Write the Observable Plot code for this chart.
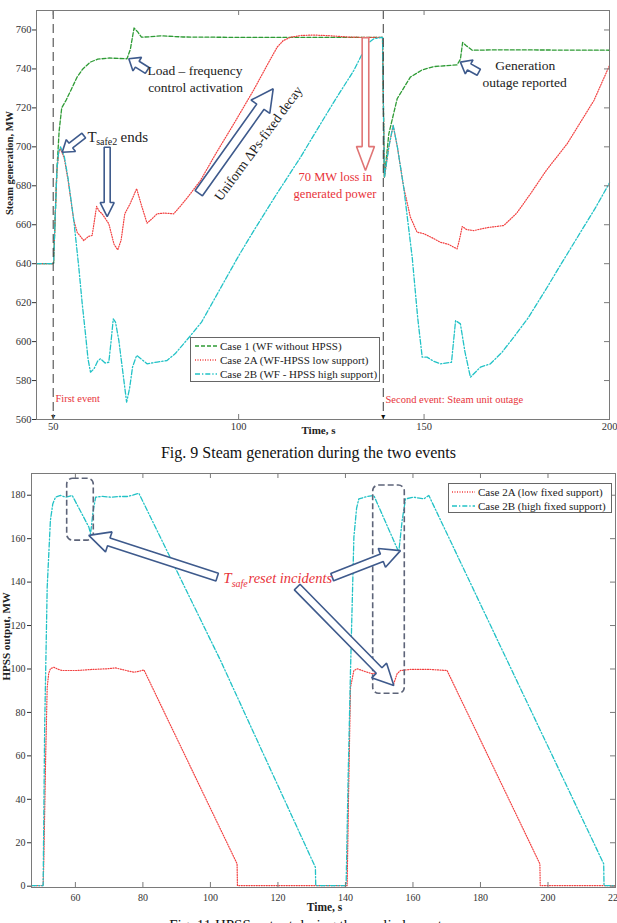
<!DOCTYPE html>
<html><head><meta charset="utf-8">
<script src="https://cdn.jsdelivr.net/npm/d3@7"></script>
<script src="https://cdn.jsdelivr.net/npm/@observablehq/plot@0.6"></script>
<style>
html,body{margin:0;padding:0;background:#fff;}
#wrap{position:relative;width:617px;height:923px;overflow:hidden;font-family:"Liberation Serif","Times New Roman",serif;color:#222;}
.cap{width:617px;text-align:center;font-size:16px;line-height:22px;height:22px;color:#111;}
.legend{position:absolute;background:#fff;border:1px solid #666;box-sizing:border-box;}
.legend .row{position:absolute;height:14px;display:flex;align-items:center;font-size:11px;white-space:nowrap;color:#222;font-family:"Liberation Serif","Times New Roman",serif;}
.legend .row svg{margin-right:3px;}
svg{display:block;}
</style></head><body>
<div id="wrap">
<div id="top"></div>
<div class="cap">Fig. 9 Steam generation during the two events</div>
<div id="bot"></div>
<div class="cap" style="line-height:18px;font-size:15px">Fig. 11 HPSS output during the applied events</div>
</div>
<script>
// ---------- DATA: Fig. 9 steam generation (time s, MW) ----------
const case1 = [[45.5,640],[50.1,640],[50.5,662],[51,688],[51.6,708],[52.3,720],[53.5,724],[55,730],[56.5,736],[58,740],[60,743.5],[62,745],[65,745.6],[69.9,745.2],[70.8,750],[71.8,761],[72.8,759],[73.8,756.3],[76,756.5],[79,757],[85,756.4],[100,756.2],[138.8,756.2],[139.3,684.3],[140.5,706.7],[142.75,724.7],[146.3,735.8],[149.5,739.5],[152.6,741.2],[158.9,742.1],[159.8,745],[160.4,753.6],[161.3,752],[163,749.6],[170,749.8],[200,749.6]];
const case2A = [[45.5,640],[50.1,640],[50.5,662],[51,688],[51.5,697],[52,699],[53,694],[54,683],[55.56,662.2],[56.5,656],[58.25,651.9],[59.5,654],[60.5,654.5],[61.7,669.4],[62.4,667],[63.2,665.6],[65,660.5],[66.4,650],[67.4,647.1],[68.3,652],[69.3,665.6],[70.8,671],[72.5,678.5],[73.8,670],[75.3,660.8],[76.6,663],[78,665.6],[80,666],[82.5,665.6],[84.5,670],[87,675.9],[89.7,682.7],[94,697],[98.7,711.8],[104,729],[108,743],[110.4,751.2],[112,754.5],[114,756.3],[117,757.2],[120.3,757.4],[125,757],[130,756.3],[138.8,756.2],[139.3,684.3],[140.5,700],[141.67,711],[142.8,700],[144.5,679.3],[146.3,664],[148.1,656.2],[149.9,655.4],[152,653.5],[154.4,651],[156.5,650],[158.9,647.6],[159.5,652],[160.3,659.1],[161.5,657.5],[163.4,657],[167,658.5],[171.5,659.6],[175,666],[178.7,675.9],[183,688],[188.6,701.6],[195.8,723.8],[200,741.8]];
const case2B = [[45.5,640],[50.1,640],[50.5,662],[51,688],[51.5,698],[51.97,700],[53,695],[54,684],[55.56,662.2],[56.9,638.2],[57.8,620],[58.7,604],[59.4,591],[60.06,584.3],[61,586],[62,590],[62.75,591.2],[64,589],[65,589.4],[65.6,600],[66.2,611.7],[66.8,610],[67.7,600.6],[68.8,584],[69.8,568.9],[70.6,576],[71.4,587],[72.5,592.9],[73.8,591],[75.3,588.6],[78,589.5],[80.7,590.3],[83,594],[87,603],[90,610],[95,627],[100,644],[104.1,657],[110,675],[116.7,694.7],[122.1,711.8],[126,724],[131.05,739.2],[134.7,752.9],[136.5,755.5],[138.8,756.2],[139.3,684.3],[140.5,700],[141.67,711],[142.8,700],[144.5,679.3],[146.8,643.3],[148.3,612],[149.5,592],[150.8,592],[152.5,590],[154.4,588.6],[157.4,589.4],[158.5,610.8],[159.8,609.1],[161,595],[162.5,581.7],[165.2,586.9],[167.9,588.6],[171,594.5],[174.2,602.3],[178,612],[183.2,627.9],[187,640],[192.2,656.2],[196,668],[200,681.5]];
const eventTimes = [50, 139];
const xTicksTop = [50, 100, 150, 200];
const yTicksTop = [560, 580, 600, 620, 640, 660, 680, 700, 720, 740, 760];
const seriesTop = ["Case 1 (WF without HPSS)", "Case 2A (WF-HPSS low support)", "Case 2B (WF - HPSS high support)"];

// ---------- DATA: Fig. 11 HPSS output (time s, MW) ----------
const hpss2A = [[47,0.3],[50.45,0.3],[50.65,11.8],[51.2,60],[51.65,91.6],[52.1,98],[52.6,100.1],[53.6,100.8],[55,99.8],[56.1,99.3],[60.5,99.3],[65,99.8],[69.4,100.1],[71.9,100.5],[74.5,99.5],[77.3,98.5],[79,99],[80.3,99.6],[107.9,10.3],[108.0,0.3],[140.5,0.3],[140.9,40],[141.5,91.6],[142.5,99.3],[143.5,100.1],[145.5,99],[147.9,97.8],[150.4,98.5],[152.4,97],[153.3,95],[154.1,92.4],[154.7,95],[155.3,97.8],[156.3,99.3],[159.3,99.8],[165,99.8],[170.1,99.3],[197.6,10.3],[197.7,0.3],[220,0.3]];
const hpss2B = [[47,0.3],[50.45,0.3],[50.9,73.2],[51.65,137.7],[52.6,168.4],[53.3,176],[54.1,179.1],[55.6,179.9],[57.1,179.1],[59.06,179.9],[64.0,165.3],[64.5,162.2],[65.2,172],[66.0,179.1],[68,179.5],[70.4,179.1],[73,179.4],[75.35,179.4],[77,180],[78.8,180.9],[103.0,103.9],[131.1,8.7],[131.2,0.3],[140.2,0.3],[140.8,50],[141.5,99.3],[142.5,160.7],[143.3,174],[143.96,178.3],[146.4,179.4],[148.4,179.9],[155.8,153.8],[156.8,168.4],[157.8,178.3],[160.25,179.1],[163.2,178.3],[164.7,179.9],[216.5,10.3],[216.6,0.3],[220,0.3]];
const xTicksBot = [60, 80, 100, 120, 140, 160, 180, 200, 220];
const yTicksBot = [0, 20, 40, 60, 80, 100, 120, 140, 160, 180];
const seriesBot = ["Case 2A (low fixed support)", "Case 2B (high fixed support)"];

// ---------- annotations (data coordinates) ----------
const topArrows = [
  {from:[58.25,705.8], to:[52.43,697.2], sw:3, hw:7.5, hl:11},
  {from:[64.56,699.8], to:[64.56,664.2], sw:3, hw:7, hl:14},
  {from:[75.35,739.2], to:[70.39,745.2], sw:3.5, hw:8, hl:10},
  {from:[89.26,676.2], to:[109.32,729.8], sw:4.5, hw:11.5, hl:22},
  {from:[134.2,756.0], to:[134.2,687.8], sw:3.3, hw:9, hl:24, red:true},
  {from:[164.75,738.3], to:[159.8,743.5], sw:3.5, hw:8, hl:10}
];
const topNotes = [
  {t:50.6, v:570.8, text:"First event", color:"red", size:10.5, anchor:"start"},
  {t:139.6, v:570, text:"Second event: Steam unit outage", color:"red", size:10.5, anchor:"start"},
  {t:75.4, v:739.2, text:"Load – frequency", size:13.5, anchor:"start"},
  {t:75.6, v:730.5, text:"control activation", size:13.5, anchor:"start"},
  {t:59.25, v:704.8, text:"T", size:15, anchor:"start"},
  {t:61.6, v:702.4, text:"safe2", size:10, anchor:"start"},
  {t:68.15, v:704.8, text:"ends", size:15, anchor:"start"},
  {t:105.35, v:701.7, text:"Uniform ΔPs-fixed decay", size:13.5, anchor:"middle", rotate:-53.7},
  {t:126.1, v:684.3, text:"70 MW loss in", color:"red", size:12.5, anchor:"middle"},
  {t:126.0, v:676.0, text:"generated power", color:"red", size:12.5, anchor:"middle"},
  {t:177.3, v:741.8, text:"Generation", size:13.5, anchor:"middle"},
  {t:177.1, v:733.0, text:"outage reported", size:13.5, anchor:"middle"}
];
const botArrows = [
  {from:[102.0,142.3], to:[63.97,161.5], sw:4, hw:10.5, hl:21},
  {from:[136.08,142.3], to:[156.31,154.5], sw:4, hw:10, hl:20},
  {from:[125.71,137.7], to:[154.33,92.4], sw:4, hw:10.5, hl:21}
];
const botNotes = [
  {t:103.8, v:141.7, text:"T", color:"red", size:15, anchor:"start", italic:true},
  {t:106.3, v:139.0, text:"safe", color:"red", size:10, anchor:"start", italic:true},
  {t:111.3, v:141.7, text:"reset incidents", color:"red", size:14.5, anchor:"start", italic:true}
];
const resetBoxes = [{t1:57.57, t2:65.45, v1:159.1, v2:187.6}, {t1:148.22, t2:157.58, v1:88.6, v2:184.5}];

// ---------- styles ----------
const GREEN = "#2e9b35", RED = "#f24040", CYAN = "#22c2c6", BLUE = "#3e5a8c", NOTE_RED = "#e8333a", FRAME = "#7a7a7a";
const DASH1 = "4,2", DASH2 = "1,1.5", DASH3 = "5,2,1.3,2";
const SERIF = "'Liberation Serif', 'Times New Roman', serif";
const W = 617;

const toObjs = arr => arr.map(([t, v]) => ({t, v}));

function blockArrow(a, sx, sy) {
  const x0 = sx(a.from[0]), y0 = sy(a.from[1]), x1 = sx(a.to[0]), y1 = sy(a.to[1]);
  const dx = x1 - x0, dy = y1 - y0, L = Math.hypot(dx, dy);
  const ux = dx / L, uy = dy / L, nx = -uy, ny = ux;
  const bx = x1 - ux * a.hl, by = y1 - uy * a.hl;
  const pts = [
    [x0 + nx * a.sw, y0 + ny * a.sw], [bx + nx * a.sw, by + ny * a.sw], [bx + nx * a.hw, by + ny * a.hw],
    [x1, y1], [bx - nx * a.hw, by - ny * a.hw], [bx - nx * a.sw, by - ny * a.sw], [x0 - nx * a.sw, y0 - ny * a.sw]
  ];
  return pts.map(([x, y]) => ({t: sx.invert(x), v: sy.invert(y)}));
}
function arrowMarks(arrows, sx, sy) {
  return arrows.map(a => Plot.line(blockArrow(a, sx, sy), {
    x: "t", y: "v", curve: "linear-closed", fill: "white",
    stroke: a.red ? "#e07575" : BLUE, strokeWidth: 1.6, strokeLinejoin: "miter"
  }));
}
function noteMarks(notes) {
  return notes.map(n => Plot.text([n], {
    x: "t", y: "v", text: "text", fill: n.color === "red" ? NOTE_RED : "#222",
    fontSize: n.size, textAnchor: n.anchor, rotate: n.rotate || 0, fontFamily: SERIF,
    fontStyle: n.italic ? "italic" : "normal"
  }));
}

// ---------- TOP chart ----------
const topH = 442, tM = {l: 36, r: 8, t: 10, b: 23};
const xTopDomain = [45.5, 200], yTopDomain = [560, 770];
const sxT = d3.scaleLinear(xTopDomain, [tM.l, W - tM.r]);
const syT = d3.scaleLinear(yTopDomain, [topH - tM.b, tM.t]);
const fwT = W - tM.l - tM.r, fhT = topH - tM.t - tM.b;

const topChart = Plot.plot({
  width: W, height: topH,
  marginLeft: tM.l, marginRight: tM.r, marginTop: tM.t, marginBottom: tM.b,
  x: {domain: xTopDomain},
  y: {domain: yTopDomain},
  style: {fontFamily: SERIF, background: "white"},
  marks: [
    Plot.line(toObjs(case1), {x: "t", y: "v", stroke: GREEN, strokeWidth: 1.3, strokeDasharray: DASH1}),
    Plot.line(toObjs(case2A), {x: "t", y: "v", stroke: RED, strokeWidth: 1.2, strokeDasharray: DASH2}),
    Plot.line(toObjs(case2B), {x: "t", y: "v", stroke: CYAN, strokeWidth: 1.3, strokeDasharray: DASH3}),
    Plot.ruleX(eventTimes, {x: d => d, stroke: "#3a3a3a", strokeWidth: 1, strokeDasharray: "9,5"}),
    Plot.text(eventTimes, {x: d => d, y: 560, text: () => "▼", fontSize: 7, dy: -3, fill: "#111"}),
    ...arrowMarks(topArrows, sxT, syT),
    ...noteMarks(topNotes),
    Plot.frame({stroke: FRAME}),
    Plot.tickX(xTicksTop, {x: d => d, insetTop: fhT - 5, stroke: FRAME}),
    Plot.tickX(xTicksTop, {x: d => d, insetBottom: fhT - 5, stroke: FRAME}),
    Plot.tickY(yTicksTop, {y: d => d, insetLeft: fwT - 5, stroke: FRAME}),
    Plot.axisY(yTicksTop, {anchor: "left", tickSize: 4, tickPadding: 1, fontSize: 10.5, fontFamily: SERIF, color: "#333", label: null}),
    Plot.axisX(xTicksTop, {anchor: "bottom", tickSize: 0, tickPadding: 3, fontSize: 10.5, fontFamily: SERIF, color: "#333", label: null}),
    Plot.text(["Steam generation, MW"], {text: d => d, frameAnchor: "left", dx: -27, rotate: -90, fontWeight: "bold", fontSize: 10.5, fontFamily: SERIF, fill: "#222"}),
    Plot.text(["Time, s"], {text: d => d, frameAnchor: "bottom", dx: -4.5, dy: 14, fontWeight: "bold", fontSize: 11, fontFamily: SERIF, fill: "#222"})
  ]
});
document.getElementById("top").appendChild(topChart);

// ---------- BOTTOM chart ----------
const botH = 452, bM = {l: 31, r: 2, t: 9, b: 29};
const xBotDomain = [47, 220], yBotDomain = [-0.6, 190];
const sxB = d3.scaleLinear(xBotDomain, [bM.l, W - bM.r]);
const syB = d3.scaleLinear(yBotDomain, [botH - bM.b, bM.t]);
const fwB = W - bM.l - bM.r, fhB = botH - bM.t - bM.b;

const botChart = Plot.plot({
  width: W, height: botH,
  marginLeft: bM.l, marginRight: bM.r, marginTop: bM.t, marginBottom: bM.b,
  x: {domain: xBotDomain},
  y: {domain: yBotDomain},
  style: {fontFamily: SERIF, background: "white"},
  marks: [
    Plot.line(toObjs(hpss2A), {x: "t", y: "v", stroke: RED, strokeWidth: 1.2, strokeDasharray: DASH2}),
    Plot.line(toObjs(hpss2B), {x: "t", y: "v", stroke: CYAN, strokeWidth: 1.3, strokeDasharray: DASH3}),
    Plot.rect(resetBoxes, {x1: "t1", x2: "t2", y1: "v1", y2: "v2", rx: 6, fill: "none", stroke: "#5d6479", strokeWidth: 1.6, strokeDasharray: "6,3"}),
    ...arrowMarks(botArrows, sxB, syB),
    ...noteMarks(botNotes),
    Plot.frame({stroke: FRAME}),
    Plot.tickX(xTicksBot, {x: d => d, insetTop: fhB - 5, stroke: FRAME}),
    Plot.tickX(xTicksBot, {x: d => d, insetBottom: fhB - 5, stroke: FRAME}),
    Plot.tickY(yTicksBot, {y: d => d, insetLeft: fwB - 5, stroke: FRAME}),
    Plot.axisY(yTicksBot, {anchor: "left", tickSize: 4, tickPadding: 2, fontSize: 10, fontFamily: SERIF, color: "#333", label: null}),
    Plot.axisX(xTicksBot, {anchor: "bottom", tickSize: 0, tickPadding: 6, fontSize: 10, fontFamily: SERIF, color: "#333", label: null}),
    Plot.text(["HPSS output, MW"], {text: d => d, frameAnchor: "left", dx: -25, rotate: -90, fontWeight: "bold", fontSize: 11, fontFamily: SERIF, fill: "#222"}),
    Plot.text(["Time, s"], {text: d => d, frameAnchor: "bottom", dx: 1, dy: 23, fontWeight: "bold", fontSize: 11.5, fontFamily: SERIF, fill: "#222"})
  ]
});
document.getElementById("bot").appendChild(botChart);

// ---------- legends ----------
function sample(color, dash, w) {
  return `<svg width="${w}" height="6"><line x1="0" y1="3" x2="${w}" y2="3" stroke="${color}" stroke-width="1.3" stroke-dasharray="${dash}"/></svg>`;
}
function legend(left, top, width, height, items, rowTops, padLeft, sw) {
  const div = document.createElement("div");
  div.className = "legend";
  Object.assign(div.style, {left: left + "px", top: top + "px", width: width + "px", height: height + "px"});
  div.innerHTML = items.map((it, i) =>
    `<div class="row" style="left:${padLeft}px;top:${rowTops[i]}px">${sample(it.color, it.dash, sw)}<span>${it.label}</span></div>`).join("");
  document.getElementById("wrap").appendChild(div);
}
legend(190, 337, 190, 45, [
  {label: seriesTop[0], color: GREEN, dash: DASH1},
  {label: seriesTop[1], color: RED, dash: DASH2},
  {label: seriesTop[2], color: CYAN, dash: DASH3}
], [1, 15, 29], 4, 22);
legend(448, 483, 164, 30, [
  {label: seriesBot[0], color: RED, dash: DASH2},
  {label: seriesBot[1], color: CYAN, dash: DASH3}
], [1, 14.5], 3, 23);
</script>
</body></html>
